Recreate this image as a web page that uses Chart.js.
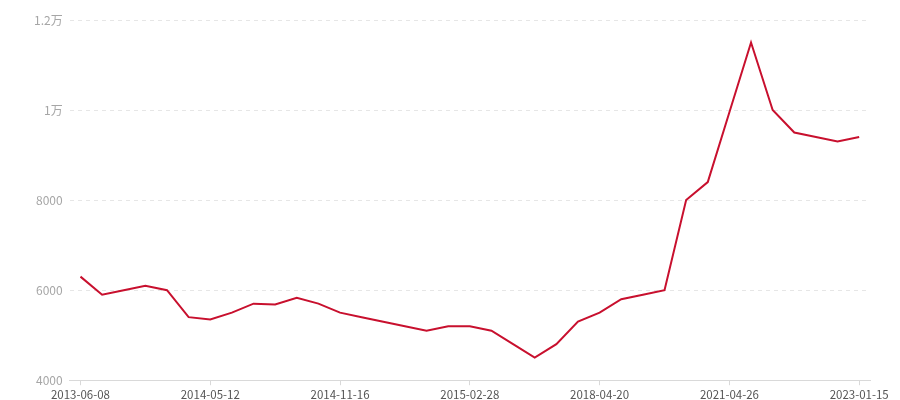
<!DOCTYPE html>
<html>
<head>
<meta charset="utf-8">
<script src="https://cdn.jsdelivr.net/npm/chart.js@4/dist/chart.umd.min.js"></script>
<style>
  html, body { margin: 0; padding: 0; background: #fff; overflow: hidden; }
  #wrap { width: 900px; height: 400px; overflow: hidden; }
</style>
</head>
<body>
<div id="wrap"><canvas id="grafico" width="900" height="405"></canvas></div>
<script>
// categorias: só as datas que aparecem no eixo, o resto fica vazio
const datas = [
    '2013-06-08', '', '', '', '', '',
    '2014-05-12', '', '', '', '', '',
    '2014-11-16', '', '', '', '', '',
    '2015-02-28', '', '', '', '', '',
    '2018-04-20', '', '', '', '', '',
    '2021-04-26', '', '', '', '', '',
    '2023-01-15'
];

const valores = [
    6300, 5900, 6000, 6100, 6000, 5400,
    5350, 5500, 5700, 5680, 5830, 5700,
    5500, 5400, 5300, 5200, 5100, 5200,
    5200, 5100, 4800, 4500, 4800, 5300,
    5500, 5800, 5900, 6000, 8000, 8400,
    9950, 11500, 10000, 9500, 9400, 9300,
    9400
];

const yTicks = [4000, 6000, 8000, 10000, 12000];

function formatoY(v) {
    if (v >= 10000) return (v / 10000) + '万';
    return String(v);
}

function graficoLinha() {
    const ctx = document.getElementById('grafico');

    new Chart(ctx, {
        type: 'line',
        data: {
            labels: datas,
            datasets: [{
                data: valores,
                borderColor: '#c8102e',
                borderWidth: 2,
                pointRadius: 0,
                tension: 0,
                fill: false
            }]
        },
        options: {
            responsive: false,
            animation: false,
            layout: {
                padding: { top: 20, right: 30, bottom: 0, left: 27 }
            },
            plugins: {
                legend: { display: false },
                tooltip: { enabled: false }
            },
            scales: {
                x: {
                    offset: true,
                    grid: {
                        drawOnChartArea: false,
                        drawTicks: true,
                        tickLength: 5,
                        color: '#d9d9d9'
                    },
                    border: { color: '#d9d9d9', width: 1 },
                    ticks: {
                        autoSkip: false,
                        maxRotation: 0,
                        padding: 3,
                        color: '#555',
                        font: { family: '"Noto Sans CJK SC", "Noto Sans", sans-serif', size: 11.5 },
                        callback: function(v, i) {
                            return datas[i] ? datas[i] : null;
                        }
                    }
                },
                y: {
                    min: 4000,
                    max: 12000,
                    afterBuildTicks: function(axis) {
                        axis.ticks = yTicks.map(v => ({ value: v }));
                    },
                    grid: {
                        color: '#e6e6e6',
                        drawTicks: false
                    },
                    border: { display: false, dash: [4, 4] },
                    ticks: {
                        padding: 7,
                        color: '#a6a6a6',
                        font: { family: '"Noto Sans CJK SC", "Noto Sans", sans-serif', size: 12 },
                        callback: formatoY
                    }
                }
            }
        }
    });
}

graficoLinha();
</script>
</body>
</html>
